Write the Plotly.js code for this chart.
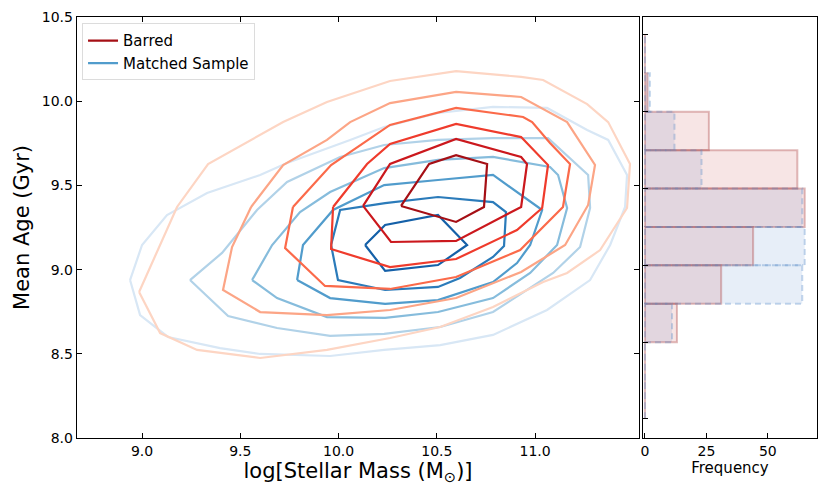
<!DOCTYPE html>
<html><head><meta charset="utf-8">
<script src="https://cdn.plot.ly/plotly-3.0.1.min.js"></script>
<style>html,body{margin:0;padding:0;background:#fff}#chart{width:831px;height:497px}</style>
</head><body><div id="chart"></div>
<script>
// ---- Barred sample contours (log M*, mean age), innermost first ----
const barredR1x = [10.318,10.461,10.598,10.756,10.740,10.598,10.318];
const barredR1y = [9.378,9.627,9.680,9.627,9.372,9.283,9.378];
const barredR2x = [10.125,10.262,10.598,10.929,10.959,10.929,10.598,10.267,10.125];
const barredR2y = [9.378,9.627,9.776,9.669,9.627,9.372,9.170,9.164,9.378];
const barredR3x = [9.972,10.145,10.262,10.598,10.929,11.066,11.036,10.908,10.598,10.262,9.962,9.972];
const barredR3y = [9.372,9.627,9.746,9.865,9.787,9.621,9.366,9.235,9.063,9.015,9.122,9.372];
const barredR4x = [9.768,9.962,10.262,10.598,10.939,10.985,11.076,11.178,11.142,10.924,10.598,10.262,9.931,9.728,9.768];
const barredR4y = [9.372,9.621,9.859,9.960,9.906,9.876,9.752,9.627,9.372,9.116,8.956,8.885,8.903,9.128,9.372];
const barredR5x = [9.555,9.718,9.941,10.059,10.262,10.598,10.929,11.163,11.305,11.270,11.153,10.929,10.598,10.262,9.941,9.601,9.412,9.458,9.555];
const barredR5y = [9.372,9.621,9.770,9.876,9.989,10.055,10.025,9.876,9.621,9.384,9.146,8.986,8.831,8.760,8.730,8.748,8.879,9.134,9.372];
const barredR6x = [8.985,9.178,9.336,9.718,9.941,10.262,10.598,10.929,11.041,11.265,11.372,11.483,11.468,11.331,11.163,11.041,10.786,10.517,10.262,9.941,9.601,9.280,9.092,8.985];
const barredR6y = [8.867,9.372,9.627,9.876,9.995,10.120,10.179,10.144,10.126,9.983,9.876,9.627,9.366,9.116,8.980,8.926,8.778,8.659,8.594,8.523,8.475,8.523,8.623,8.867];

// ---- Matched sample contours, innermost first ----
const matchedB1x = [10.135,10.237,10.506,10.654,10.506,10.237,10.135];
const matchedB1y = [9.146,9.265,9.324,9.146,9.027,8.992,9.146];
const matchedB2x = [9.962,10.008,10.237,10.506,10.786,10.852,10.842,10.786,10.618,10.506,10.237,9.997,9.962];
const matchedB2y = [9.146,9.354,9.395,9.431,9.401,9.342,9.140,9.075,8.950,8.897,8.879,8.938,9.146];
const matchedB3x = [9.789,9.819,9.972,10.232,10.506,10.786,11.036,10.975,10.908,10.786,10.506,10.237,9.957,9.789];
const matchedB3y = [8.938,9.146,9.354,9.502,9.532,9.562,9.354,9.146,9.039,8.926,8.819,8.796,8.831,8.938];
const matchedB4x = [9.560,9.662,9.804,9.957,10.232,10.506,10.786,11.076,11.117,11.163,11.112,10.975,10.786,10.506,10.237,9.941,9.687,9.560];
const matchedB4y = [8.938,9.146,9.342,9.461,9.603,9.651,9.669,9.609,9.562,9.366,9.146,8.980,8.831,8.748,8.713,8.718,8.831,8.938];
const matchedB5x = [9.244,9.407,9.585,9.738,10.008,10.232,10.506,10.786,11.066,11.178,11.270,11.280,11.229,11.092,10.786,10.517,10.232,9.957,9.687,9.438,9.244];
const matchedB5y = [8.938,9.099,9.354,9.520,9.669,9.740,9.770,9.781,9.781,9.663,9.562,9.366,9.134,8.980,8.748,8.659,8.618,8.606,8.653,8.724,8.938];
const matchedB6x = [8.939,9.000,9.127,9.331,9.601,9.738,10.059,10.232,10.506,10.786,11.061,11.265,11.372,11.468,11.458,11.382,11.280,11.061,10.786,10.517,10.232,9.957,9.601,9.397,9.132,8.990,8.939];
const matchedB6y = [8.938,9.146,9.324,9.455,9.562,9.633,9.770,9.847,9.930,9.966,9.960,9.829,9.770,9.562,9.372,9.146,8.938,8.760,8.612,8.552,8.523,8.487,8.499,8.534,8.600,8.730,8.938];

// ---- Age histograms (bins from 8.0 to 10.5 Gyr) ----
const ageBinEdges = [8.0,8.25,8.5,8.75,9.0,9.25,9.5,9.75,10.0,10.25,10.5];
const barredCounts  = [0,0,13,31,44,65,62,26,1,0];
const matchedCounts = [0,0,11,64,65,64,23,12,2,0];

// ---- tick labels ----
const massTickVals = [9.0,9.5,10.0,10.5,11.0];
const massTickText = ['9.0','9.5','10.0','10.5','11.0'];
const ageTickVals = [8.0,8.5,9.0,9.5,10.0,10.5];
const ageTickText = ['8.0','8.5','9.0','9.5','10.0','10.5'];
const freqTickVals = [0,25,50];

const redColors  = ['#a50f15','#cb181d','#ef3b2c','#fb6a4a','#fca586','#fdd5c3'];
const blueColors = ['#1460a8','#2b7bba','#519ccc','#86bcdc','#b1d2e8','#d8e7f5'];

const barredSets = [[barredR1x,barredR1y],[barredR2x,barredR2y],[barredR3x,barredR3y],[barredR4x,barredR4y],[barredR5x,barredR5y],[barredR6x,barredR6y]];
const matchedSets = [[matchedB1x,matchedB1y],[matchedB2x,matchedB2y],[matchedB3x,matchedB3y],[matchedB4x,matchedB4y],[matchedB5x,matchedB5y],[matchedB6x,matchedB6y]];

const traces = [];
for (let i = 5; i >= 0; i--) {
  traces.push({type:'scatter', mode:'lines', x:matchedSets[i][0], y:matchedSets[i][1],
    line:{color:blueColors[i], width:2.2}, xaxis:'x', yaxis:'y',
    name: 'Matched Sample', showlegend: i===2, legendrank: 2, hoverinfo:'skip'});
}
for (let i = 5; i >= 0; i--) {
  traces.push({type:'scatter', mode:'lines', x:barredSets[i][0], y:barredSets[i][1],
    line:{color:redColors[i], width:2.2}, xaxis:'x', yaxis:'y',
    name: 'Barred', showlegend: i===0, legendrank: 1, hoverinfo:'skip'});
}

// histograms
const centers = [];
for (let i = 0; i < ageBinEdges.length-1; i++) centers.push((ageBinEdges[i]+ageBinEdges[i+1])/2);
const binW = ageBinEdges[1]-ageBinEdges[0];
function outline(counts){
  const xs=[], ys=[];
  for (let i=0;i<counts.length;i++){
    const lo=ageBinEdges[i], hi=ageBinEdges[i+1], c=counts[i];
    xs.push(0,c,c,0,0,null); ys.push(lo,lo,hi,hi,lo,null);
  }
  return {xs, ys};
}
traces.push({type:'bar', orientation:'h', y:centers, x:matchedCounts, width:binW, base:0,
  marker:{color:'rgba(70,120,200,0.13)', line:{width:0}}, xaxis:'x2', yaxis:'y2', showlegend:false, hoverinfo:'skip'});
traces.push({type:'bar', orientation:'h', y:centers, x:barredCounts, width:binW, base:0,
  marker:{color:'rgba(200,80,80,0.15)', line:{width:0}}, xaxis:'x2', yaxis:'y2', showlegend:false, hoverinfo:'skip'});
const ob = outline(barredCounts), om = outline(matchedCounts);
traces.push({type:'scatter', mode:'lines', x:ob.xs, y:ob.ys, connectgaps:false,
  line:{color:'rgba(170,60,60,0.35)', width:2}, xaxis:'x2', yaxis:'y2', showlegend:false, hoverinfo:'skip'});
traces.push({type:'scatter', mode:'lines', x:om.xs, y:om.ys, connectgaps:false,
  line:{color:'rgba(90,140,200,0.35)', width:2, dash:'6px,4px'}, xaxis:'x2', yaxis:'y2', showlegend:false, hoverinfo:'skip'});

const axStyle = {ticks:'inside', ticklen:5, tickwidth:1, tickcolor:'#000', showline:true, linecolor:'#000', linewidth:1.3,
  showgrid:false, zeroline:false, tickfont:{size:14}};

const layout = {
  width:831, height:497,
  margin:{l:77, r:14, t:17, b:59, pad:0},
  paper_bgcolor:'#fff', plot_bgcolor:'#fff',
  font:{family:'DejaVu Sans, sans-serif', color:'#000', size:14},
  barmode:'overlay',
  showlegend:true,
  legend:{x:0.0068, y:0.985, xanchor:'left', yanchor:'top', bgcolor:'rgba(255,255,255,0.85)',
    bordercolor:'#dcdcdc', borderwidth:1, font:{size:15}, tracegroupgap:0},
  xaxis: Object.assign({}, axStyle, {domain:[0,0.7595], range:[8.669,11.529], tickvals:massTickVals, ticktext:massTickText,
    mirror:'allticks', anchor:'y', title:{text:'log[Stellar Mass (M<sub>⊙</sub>)]', font:{size:21}, standoff:3}}),
  yaxis: Object.assign({}, axStyle, {domain:[0,1], range:[8.0,10.5], tickvals:ageTickVals, ticktext:ageTickText,
    mirror:'allticks', anchor:'x', title:{text:'Mean Age (Gyr)', font:{size:21}, standoff:6}}),
  xaxis2: Object.assign({}, axStyle, {domain:[0.7649,1], range:[-0.8,70], tickvals:freqTickVals,
    mirror:true, anchor:'y2', title:{text:'Frequency', font:{size:15}, standoff:2}}),
  yaxis2: Object.assign({}, axStyle, {domain:[0,1], range:[7.876,10.617], tickvals:ageTickVals,
    showticklabels:false, mirror:true, anchor:'x2'})
};
Plotly.newPlot('chart', traces, layout, {staticPlot:true, displayModeBar:false});
</script></body></html>
